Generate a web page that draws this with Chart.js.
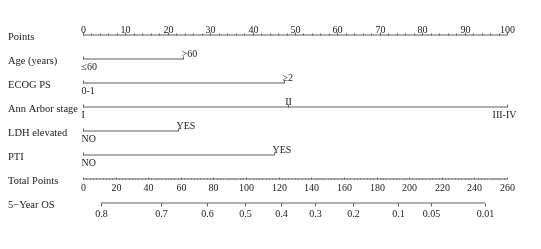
<!DOCTYPE html>
<html>
<head>
<meta charset="utf-8">
<script src="https://cdn.jsdelivr.net/npm/chart.js@4.4.1/dist/chart.umd.min.js"></script>
<style>
  html, body { margin: 0; padding: 0; background: #fff; }
</style>
</head>
<body>
<canvas id="nomo" width="541" height="249"></canvas>
<script>
// row titles, top to bottom
var rowNames = ["Points", "Age (years)", "ECOG PS", "Ann Arbor stage", "LDH elevated", "PTI", "Total Points", "5\u2212Year OS"];

// points scale (0-100)
var pointTicks = [0, 10, 20, 30, 40, 50, 60, 70, 80, 90, 100];

// predictors: level labels and their points
var ageLevels = ["\u226460", ">60"];
var agePoints = [0, 23.6];
var ecogLevels = ["0-1", "\u22652"];
var ecogPoints = [0, 47.4];
var stageLevels = ["I", "II", "III-IV"];
var stagePoints = [0, 48.3, 100];
var ldhLevels = ["NO", "YES"];
var ldhPoints = [0, 22.4];
var ptiLevels = ["NO", "YES"];
var ptiPoints = [0, 45];

// total points scale (0-260)
var totalTicks = [0, 20, 40, 60, 80, 100, 120, 140, 160, 180, 200, 220, 240, 260];

// 5-year OS probabilities and the total points where they sit
var osLabels = ["0.8", "0.7", "0.6", "0.5", "0.4", "0.3", "0.2", "0.1", "0.05", "0.01"];
var osTotalPoints = [11, 47.8, 76, 99.3, 121.4, 142.3, 165.6, 193.2, 213.4, 246.5];

var predictors = [
  { row: 1, levels: ageLevels, pts: agePoints },
  { row: 2, levels: ecogLevels, pts: ecogPoints },
  { row: 3, levels: stageLevels, pts: stagePoints },
  { row: 4, levels: ldhLevels, pts: ldhPoints },
  { row: 5, levels: ptiLevels, pts: ptiPoints }
];

var lineColor = "#5e5e5e";
var textColor = "#1a1a1a";
var serif = '"Liberation Serif", "Times New Roman", serif';

function seg(x0, x1, row, axis) {
  return {
    data: [{ x: x0, y: row }, { x: x1, y: row }],
    xAxisID: axis,
    showLine: true,
    borderColor: lineColor,
    borderWidth: 1,
    pointRadius: 0
  };
}

var datasets = [seg(pointTicks[0], pointTicks[pointTicks.length - 1], 0, "x")];
predictors.forEach(function (p) {
  datasets.push(seg(p.pts[0], p.pts[p.pts.length - 1], p.row, "x"));
});
datasets.push(seg(totalTicks[0], totalTicks[totalTicks.length - 1], 6, "xt"));
datasets.push(seg(osTotalPoints[0], osTotalPoints[osTotalPoints.length - 1], 7, "xt"));

var nomoPlugin = {
  id: "nomo",
  afterDatasetsDraw: function (chart) {
    var ctx = chart.ctx;
    var xs = chart.scales.x, xt = chart.scales.xt, ys = chart.scales.y;
    function px(v, sc) { return Math.round(sc.getPixelForValue(v)) + 0.5; }
    function py(r) { return Math.round(ys.getPixelForValue(r)) + 0.5; }
    function tick(x, y, len) {
      ctx.beginPath(); ctx.moveTo(x, y); ctx.lineTo(x, y - len); ctx.stroke();
    }
    ctx.save();
    ctx.strokeStyle = lineColor;
    ctx.fillStyle = textColor;
    ctx.lineWidth = 1;

    // row titles
    ctx.font = "10.5px " + serif;
    ctx.textAlign = "left";
    ctx.textBaseline = "middle";
    rowNames.forEach(function (n, i) { ctx.fillText(n, 8, py(i) + 1.5); });

    ctx.font = "10px " + serif;

    // points axis
    var y0 = py(0);
    for (var v = 0; v <= 100; v += 2) tick(px(v, xs), y0, v % 10 === 0 ? 3 : 2);
    ctx.textAlign = "center";
    ctx.textBaseline = "alphabetic";
    pointTicks.forEach(function (t) { ctx.fillText(String(t), px(t, xs), y0 - 3); });

    // predictor rows
    predictors.forEach(function (p) {
      var y = py(p.row);
      var n = p.levels.length;
      p.levels.forEach(function (lab, i) {
        var x = px(p.pts[i], xs);
        tick(x, y, 3);
        var above = i % 2 === 1;
        if (i === 0 || n === 2) ctx.textAlign = "left";
        else ctx.textAlign = "center";
        var tx = ctx.textAlign === "left" ? x - 2 : x;
        if (i === n - 1 && n > 2) tx = x - 3;
        ctx.textBaseline = above ? "alphabetic" : "top";
        ctx.fillText(lab, tx, above ? y - 3 : y + 3);
      });
    });

    // total points axis
    var y6 = py(6);
    for (var t = 0; t <= 260; t += 2) tick(px(t, xt), y6, t % 20 === 0 ? 2 : 1);
    ctx.textAlign = "center";
    ctx.textBaseline = "top";
    totalTicks.forEach(function (t) { ctx.fillText(String(t), px(t, xt), y6 + 4); });

    // 5-year OS axis
    var y7 = py(7);
    osTotalPoints.forEach(function (tp, i) {
      var x = px(tp, xt);
      tick(x, y7, -3);
      ctx.fillText(osLabels[i], x, y7 + 6);
    });
    ctx.restore();
  }
};

new Chart(document.getElementById("nomo"), {
  type: "scatter",
  data: { datasets: datasets },
  options: {
    responsive: false,
    animation: false,
    layout: { padding: { left: 83, right: 34, top: 23, bottom: 34 } },
    plugins: { legend: { display: false }, tooltip: { enabled: false } },
    scales: {
      x: { type: "linear", min: 0, max: 100, display: false },
      xt: { type: "linear", min: 0, max: 260, display: false },
      y: { type: "linear", min: -0.5, max: 7.5, reverse: true, display: false }
    }
  },
  plugins: [nomoPlugin]
});
</script>
</body>
</html>
